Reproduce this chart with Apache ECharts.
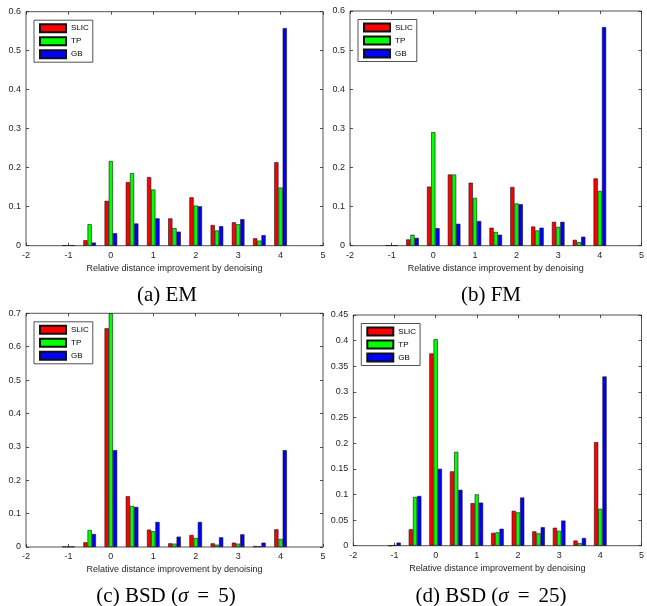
<!DOCTYPE html>
<html>
<head>
<meta charset="utf-8">
<script src="https://cdn.jsdelivr.net/npm/echarts@6.0.0/dist/echarts.min.js"></script>
<style>
html,body{margin:0;padding:0;background:#fff;}
#chart{width:647px;height:606px;}
</style>
</head>
<body>
<div id="chart"></div>
<script>
// Bin centres (x values of each bar group)
const groups = [-1, -0.5, 0, 0.5, 1, 1.5, 2, 2.5, 3, 3.5, 4];
const seriesNames = ['SLIC', 'TP', 'GB'];
const xTicks = { min: -2, max: 5, interval: 1 };

// (a) EM
const emSLIC = [0.001, 0.014, 0.115, 0.163, 0.176, 0.070, 0.124, 0.053, 0.060, 0.019, 0.214];
const emTP   = [0.001, 0.055, 0.217, 0.186, 0.144, 0.045, 0.103, 0.039, 0.055, 0.013, 0.149];
const emGB   = [0.001, 0.008, 0.032, 0.057, 0.070, 0.036, 0.101, 0.050, 0.068, 0.027, 0.558];

// (b) FM
const fmSLIC = [0.001, 0.016, 0.151, 0.182, 0.161, 0.046, 0.150, 0.049, 0.061, 0.015, 0.172];
const fmTP   = [0.001, 0.028, 0.290, 0.182, 0.122, 0.035, 0.108, 0.039, 0.048, 0.009, 0.140];
const fmGB   = [0.001, 0.020, 0.045, 0.056, 0.063, 0.028, 0.106, 0.046, 0.061, 0.023, 0.559];

// (c) BSD sigma = 5
const b5SLIC = [0.001, 0.014, 0.655, 0.152, 0.052, 0.011, 0.036, 0.011, 0.013, 0.003, 0.053];
const b5TP   = [0.001, 0.051, 0.700, 0.123, 0.047, 0.010, 0.027, 0.007, 0.010, 0.002, 0.024];
const b5GB   = [0.001, 0.039, 0.290, 0.120, 0.075, 0.031, 0.075, 0.029, 0.038, 0.013, 0.290];

// (d) BSD sigma = 25
const b25SLIC = [0.000, 0.032, 0.375, 0.145, 0.083, 0.025, 0.068, 0.028, 0.035, 0.010, 0.202];
const b25TP   = [0.001, 0.095, 0.403, 0.183, 0.100, 0.026, 0.065, 0.024, 0.029, 0.005, 0.072];
const b25GB   = [0.006, 0.097, 0.150, 0.109, 0.084, 0.033, 0.094, 0.036, 0.049, 0.015, 0.330];

// y-axis tick settings
const yA = { max: 0.6, interval: 0.1 };
const yB = { max: 0.6, interval: 0.1 };
const yC = { max: 0.7, interval: 0.1 };
const yD = { max: 0.45, interval: 0.05 };

const captions = ['(a) EM', '(b) FM', '(c) BSD ({s|σ}{eq|=}5)', '(d) BSD ({s|σ}{eq|=}25)'];
const xName = 'Relative distance improvement by denoising';

const colors = ['#ff0000', '#00ff00', '#0000ff'];
const panels = [
  { grid: { left: 26, top: 11.7, width: 297, height: 234 }, y: yA, data: [emSLIC, emTP, emGB], cap: [167, 295] },
  { grid: { left: 350, top: 11, width: 296, height: 234.7 }, y: yB, data: [fmSLIC, fmTP, fmGB], cap: [491, 295] },
  { grid: { left: 26, top: 313.3, width: 297, height: 233.7 }, y: yC, data: [b5SLIC, b5TP, b5GB], cap: [166, 596] },
  { grid: { left: 353.3, top: 315, width: 292.7, height: 230.7 }, y: yD, data: [b25SLIC, b25TP, b25GB], cap: [491, 596] }
];

const axisColor = '#262626';
const fontSans = 'Liberation Sans, Arial, Helvetica, sans-serif';
const tickStyle = { show: true, inside: true, length: 3, lineStyle: { color: axisColor, width: 0.8 } };

const option = {
  animation: false,
  backgroundColor: '#fff',
  grid: [], xAxis: [], yAxis: [], series: [], legend: [], graphic: []
};

panels.forEach((p, i) => {
  option.grid.push(Object.assign({ show: true, borderColor: axisColor, borderWidth: 0.8, backgroundColor: '#fff' }, p.grid));
  const xb = option.xAxis.length;
  option.xAxis.push({
    type: 'value', gridIndex: i, position: 'bottom', min: xTicks.min, max: xTicks.max, interval: xTicks.interval,
    name: xName, nameLocation: 'middle', nameGap: 18,
    nameTextStyle: { fontSize: 9, color: axisColor, fontFamily: fontSans },
    axisLine: { show: false, onZero: false }, splitLine: { show: false },
    axisTick: tickStyle,
    axisLabel: { fontSize: 9, color: axisColor, fontFamily: fontSans, margin: 5 }
  });
  option.xAxis.push({
    type: 'value', gridIndex: i, position: 'top', min: xTicks.min, max: xTicks.max, interval: xTicks.interval,
    axisLine: { show: false, onZero: false }, splitLine: { show: false }, axisLabel: { show: false },
    axisTick: tickStyle
  });
  const yb = option.yAxis.length;
  option.yAxis.push({
    type: 'value', gridIndex: i, position: 'left', min: 0, max: p.y.max, interval: p.y.interval,
    axisLine: { show: false, onZero: false }, splitLine: { show: false },
    axisTick: tickStyle,
    axisLabel: { fontSize: 9, color: axisColor, fontFamily: fontSans, margin: 5 }
  });
  option.yAxis.push({
    type: 'value', gridIndex: i, position: 'right', min: 0, max: p.y.max, interval: p.y.interval,
    axisLine: { show: false, onZero: false }, splitLine: { show: false }, axisLabel: { show: false },
    axisTick: tickStyle
  });
  seriesNames.forEach((nm, k) => {
    option.series.push({
      type: 'bar', name: nm, xAxisIndex: xb, yAxisIndex: yb,
      barWidth: 4.2, barGap: '0%',
      itemStyle: { color: colors[k], borderColor: '#111', borderWidth: 0.6 },
      data: groups.map((g, j) => [g, p.data[k][j]])
    });
  });
  option.legend.push({
    data: seriesNames, orient: 'vertical',
    left: p.grid.left + 8, top: p.grid.top + 8.5,
    itemWidth: 26, itemHeight: 8, itemGap: 3,
    padding: [3, 4, 3, 5],
    borderColor: axisColor, borderWidth: 0.8, backgroundColor: '#fff',
    icon: 'rect',
    textStyle: { fontSize: 8, color: '#000', fontFamily: fontSans },
    selectedMode: false
  });
  option.graphic.push({
    type: 'text', x: p.cap[0], y: p.cap[1],
    style: {
      text: captions[i], align: 'center', verticalAlign: 'middle',
      font: '21px "Liberation Serif", "Times New Roman", serif', fill: '#000',
      rich: {
        s: { fontStyle: 'italic', fontSize: 21, fontFamily: 'Liberation Serif' },
        eq: { fontSize: 21, fontFamily: 'Liberation Serif', padding: [0, 9, 0, 9] }
      }
    }
  });
});

const chart = echarts.init(document.getElementById('chart'), null, { renderer: 'canvas' });
chart.setOption(option);
</script>
</body>
</html>
